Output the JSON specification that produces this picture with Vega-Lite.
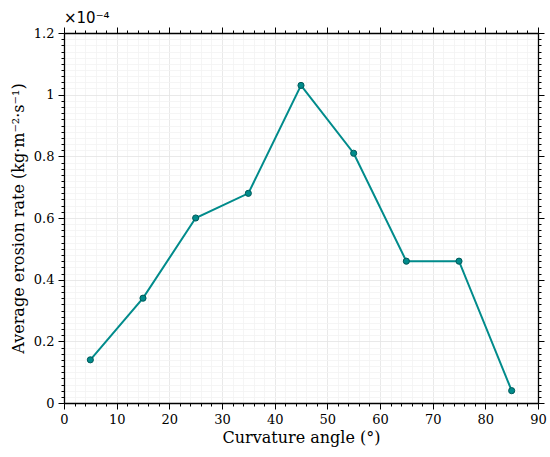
{
  "$schema": "https://vega.github.io/schema/vega-lite/v6.json",
  "autosize": "none",
  "width": 474,
  "height": 370,
  "padding": {"left": 64, "top": 33, "right": 12, "bottom": 54},
  "background": "white",
  "config": {"view": {"stroke": null}, "font": "DejaVu Serif"},
  "title": {"text": "×10⁻⁴", "anchor": "start", "frame": "group", "font": "DejaVu Sans", "fontSize": 15, "fontWeight": "normal", "offset": 1, "dx": 0},
  "data": {"values": [
    {"angle": 5, "rate": 0.14},
    {"angle": 15, "rate": 0.34},
    {"angle": 25, "rate": 0.60},
    {"angle": 35, "rate": 0.68},
    {"angle": 45, "rate": 1.03},
    {"angle": 55, "rate": 0.81},
    {"angle": 65, "rate": 0.46},
    {"angle": 75, "rate": 0.46},
    {"angle": 85, "rate": 0.04}
  ]},
  "resolve": {"axis": {"x": "independent", "y": "independent"}},
  "layer": [
    {
      "layer": [
        {"mark": {"type": "line", "color": "#008b8b", "strokeWidth": 2}},
        {"mark": {"type": "point", "filled": true, "fill": "#008b8b", "stroke": "#005a5a", "strokeWidth": 1, "size": 38, "opacity": 1}}
      ],
      "encoding": {
        "x": {"field": "angle", "type": "quantitative",
          "scale": {"domain": [0, 90], "nice": false},
          "axis": {"orient": "bottom", "title": "Curvature angle (°)",
            "values": [0,2,4,6,8,10,12,14,16,18,20,22,24,26,28,30,32,34,36,38,40,42,44,46,48,50,52,54,56,58,60,62,64,66,68,70,72,74,76,78,80,82,84,86,88,90],
            "labelExpr": "datum.value % 10 == 0 ? format(datum.value, 'd') : ''",
            "labelOverlap": false, "labelFlush": false,
            "labelFont": "DejaVu Serif", "labelFontSize": 13, "labelColor": "black", "labelPadding": 4,
            "titleFont": "DejaVu Serif", "titleFontSize": 16, "titleFontWeight": "normal", "titleColor": "black", "titlePadding": 3,
            "domainColor": "black", "domainWidth": 1.3,
            "tickColor": "black", "tickWidth": 1,
            "tickSize": {"condition": {"test": "datum.value % 10 == 0", "value": 6}, "value": 3},
            "grid": true,
            "gridColor": {"condition": {"test": "datum.value % 10 == 0", "value": "#e3e3e3"}, "value": "#f3f3f3"},
            "gridWidth": 0.8}},
        "y": {"field": "rate", "type": "quantitative",
          "scale": {"domain": [0, 1.2], "nice": false},
          "axis": {"orient": "left", "title": "Average erosion rate (kg·m⁻²·s⁻¹)",
            "values": [0,0.02,0.04,0.06,0.08,0.1,0.12,0.14,0.16,0.18,0.2,0.22,0.24,0.26,0.28,0.3,0.32,0.34,0.36,0.38,0.4,0.42,0.44,0.46,0.48,0.5,0.52,0.54,0.56,0.58,0.6,0.62,0.64,0.66,0.68,0.7,0.72,0.74,0.76,0.78,0.8,0.82,0.84,0.86,0.88,0.9,0.92,0.94,0.96,0.98,1,1.02,1.04,1.06,1.08,1.1,1.12,1.14,1.16,1.18,1.2],
            "labelExpr": "abs(datum.value*5 - round(datum.value*5)) < 0.001 ? format(datum.value, '.1~f') : ''",
            "labelOverlap": false, "labelFlush": false,
            "labelFont": "DejaVu Serif", "labelFontSize": 13, "labelColor": "black", "labelPadding": 4,
            "titleFont": "DejaVu Serif", "titleFontSize": 16, "titleFontWeight": "normal", "titleColor": "black", "titlePadding": 7,
            "domainColor": "black", "domainWidth": 1.3,
            "tickColor": "black", "tickWidth": 1,
            "tickSize": {"condition": {"test": "abs(datum.value*5 - round(datum.value*5)) < 0.001", "value": 6}, "value": 3},
            "grid": true,
            "gridColor": {"condition": {"test": "abs(datum.value*5 - round(datum.value*5)) < 0.001", "value": "#e3e3e3"}, "value": "#f3f3f3"},
            "gridWidth": 0.8}}
      }
    },
    {
      "mark": {"type": "point", "opacity": 0},
      "encoding": {
        "x": {"field": "angle", "type": "quantitative",
          "scale": {"domain": [0, 90], "nice": false},
          "axis": {"orient": "top", "title": null, "labels": false,
            "values": [0,2,4,6,8,10,12,14,16,18,20,22,24,26,28,30,32,34,36,38,40,42,44,46,48,50,52,54,56,58,60,62,64,66,68,70,72,74,76,78,80,82,84,86,88,90],
            "domainColor": "black", "domainWidth": 1.3,
            "tickColor": "black", "tickWidth": 1,
            "tickSize": {"condition": {"test": "datum.value % 10 == 0", "value": 6}, "value": 3},
            "grid": false}},
        "y": {"field": "rate", "type": "quantitative",
          "scale": {"domain": [0, 1.2], "nice": false},
          "axis": {"orient": "right", "title": null, "labels": false,
            "values": [0,0.02,0.04,0.06,0.08,0.1,0.12,0.14,0.16,0.18,0.2,0.22,0.24,0.26,0.28,0.3,0.32,0.34,0.36,0.38,0.4,0.42,0.44,0.46,0.48,0.5,0.52,0.54,0.56,0.58,0.6,0.62,0.64,0.66,0.68,0.7,0.72,0.74,0.76,0.78,0.8,0.82,0.84,0.86,0.88,0.9,0.92,0.94,0.96,0.98,1,1.02,1.04,1.06,1.08,1.1,1.12,1.14,1.16,1.18,1.2],
            "domainColor": "black", "domainWidth": 1.3,
            "tickColor": "black", "tickWidth": 1,
            "tickSize": {"condition": {"test": "abs(datum.value*5 - round(datum.value*5)) < 0.001", "value": 6}, "value": 3},
            "grid": false}}
      }
    }
  ]
}
